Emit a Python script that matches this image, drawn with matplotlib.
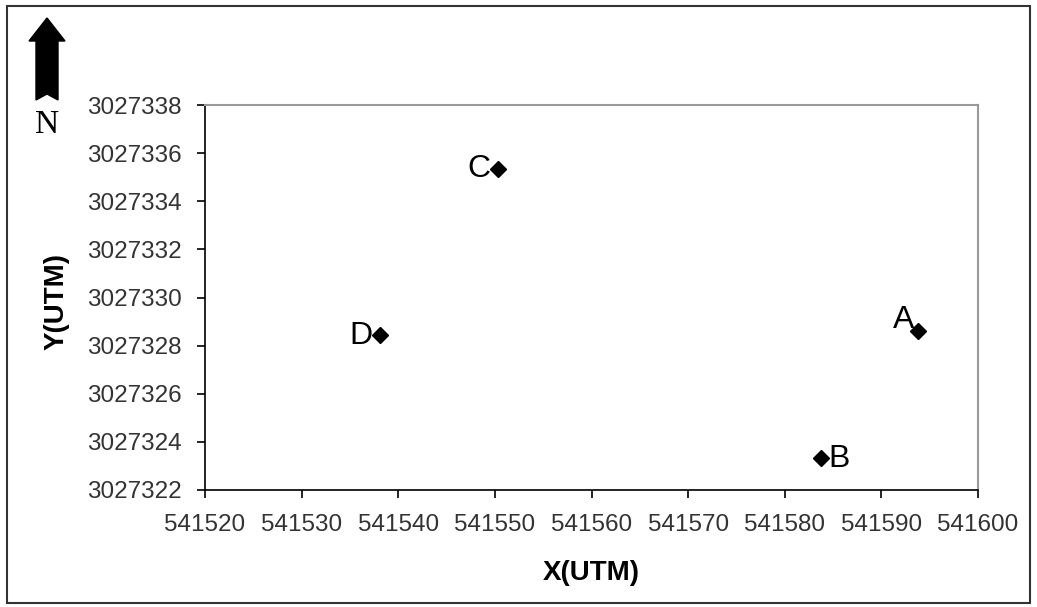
import matplotlib.pyplot as plt
from matplotlib.patches import Polygon, Rectangle

# station coordinates (UTM)
names = ['A', 'B', 'C', 'D']
x_utm = [541593.8, 541583.8, 541550.3, 541538.1]
y_utm = [3027328.6, 3027323.35, 3027335.35, 3027328.45]
# label offsets in points (dx, dy) and alignment
offsets = [(-3, 8, 'right'), (5, -1, 'left'), (-5, 0, 'right'), (-5, -1, 'right')]

plt.rcParams['font.family'] = ['Liberation Sans', 'DejaVu Sans']

fig = plt.figure(figsize=(10.37, 6.07), dpi=100)
ax = fig.add_axes([205 / 1037, 1 - 490 / 607, (978 - 205) / 1037, (490 - 105) / 607])

ax.plot(x_utm, y_utm, linestyle='none', marker='D', markersize=8, color='black')
for n, xv, yv, (dx, dy, ha) in zip(names, x_utm, y_utm, offsets):
    ax.annotate(n, (xv, yv), xytext=(dx, dy), textcoords='offset points',
                ha=ha, va='center', fontsize=23)

ax.set_xlim(541520, 541600)
ax.set_ylim(3027322, 3027338)
ax.set_xticks(range(541520, 541601, 10))
ax.set_yticks(range(3027322, 3027339, 2))
ax.ticklabel_format(useOffset=False, style='plain')
ax.tick_params(direction='out', length=6, width=1.2, labelsize=17.5, colors='black', pad=11)
for lbl in ax.get_xticklabels() + ax.get_yticklabels():
    lbl.set_color('#333333')

ax.set_xlabel('X(UTM)', fontsize=20, fontweight='bold', va='center')
ax.set_ylabel('Y(UTM)', fontsize=20, fontweight='bold', va='center')
ax.xaxis.set_label_coords(0.5, (490 - 573) / 385)
ax.yaxis.set_label_coords((57 - 205) / 773, 0.49)

ax.spines['left'].set_linewidth(1.2)
ax.spines['bottom'].set_linewidth(1.2)
for s in ['top', 'right']:
    ax.spines[s].set_color('#999999')
    ax.spines[s].set_linewidth(1.5)

# north arrow
W, H = 1037, 607
pts = [(47, 18), (65, 41), (58, 41), (58, 100), (47, 94), (36, 100), (36, 41), (29, 41)]
fig.patches.append(Polygon([(px / W, 1 - py / H) for px, py in pts], closed=True,
                           transform=fig.transFigure, facecolor='black', edgecolor='black'))
fig.text(47 / W, 1 - 125 / H, 'N', family='Liberation Serif', fontsize=24,
         ha='center', va='center')

# outer frame
fig.patches.append(Rectangle((7 / W, 1 - 603 / H), (1030 - 7) / W, (603 - 6) / H,
                             transform=fig.transFigure, fill=False,
                             edgecolor='#333333', linewidth=1.5))

fig.savefig('out.png', dpi=100)
